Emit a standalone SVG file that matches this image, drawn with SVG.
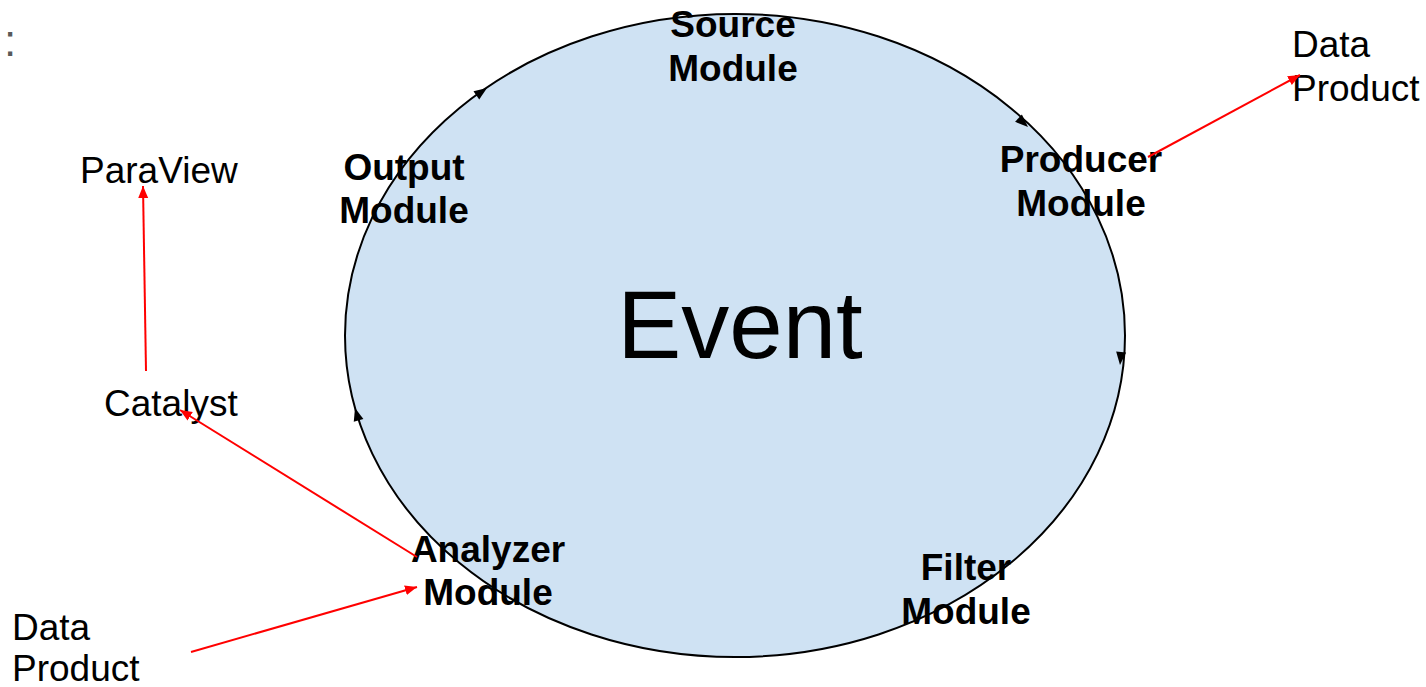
<svg xmlns="http://www.w3.org/2000/svg" width="1426" height="687" viewBox="0 0 1426 687">
<style>
.b{font-family:"Liberation Sans",Arial,sans-serif;font-weight:bold;font-size:37px;fill:#000;text-anchor:middle}
.n{font-family:"Liberation Sans",Arial,sans-serif;font-size:37px;fill:#000}
.r{stroke:#ff0000;stroke-width:2;fill:none;marker-end:url(#ra)}
.ah{fill:#000}
</style>
<defs>
<marker id="ra" markerUnits="userSpaceOnUse" markerWidth="14" markerHeight="12" refX="12" refY="5" orient="auto">
<path d="M0,0 L12,5 L0,10 Z" fill="#ff0000"/>
</marker>
</defs>
<text x="4" y="56" font-family="Liberation Sans,Arial,sans-serif" font-size="44" fill="#595959">:</text>
<g id="event">
<ellipse cx="735" cy="335.5" rx="390" ry="321.5" fill="#cfe2f3" stroke="#000" stroke-width="2"/>
<text x="740" y="358" font-family="Liberation Sans,Arial,sans-serif" font-size="96" text-anchor="middle">Event</text>
</g>
<g id="cycle-arrows">
<path class="ah" d="M0,0 L-13,-5 L-13,5 Z" transform="translate(487,88) rotate(-35)"/>
<path class="ah" d="M0,0 L-13,-5 L-13,5 Z" transform="translate(1028,127) rotate(43)"/>
<path class="ah" d="M0,0 L-13,-5 L-13,5 Z" transform="translate(1120,365) rotate(95)"/>
<path class="ah" d="M0,0 L-13,-5 L-13,5 Z" transform="translate(355,408) rotate(-106)"/>
</g>
<g id="source"><text class="b" x="733" y="37">Source</text><text class="b" x="733" y="81">Module</text></g>
<g id="output"><text class="b" x="404" y="180">Output</text><text class="b" x="404" y="223">Module</text></g>
<g id="producer"><text class="b" x="1081" y="172">Producer</text><text class="b" x="1081" y="216">Module</text></g>
<g id="analyzer"><text class="b" x="488" y="562">Analyzer</text><text class="b" x="488" y="605">Module</text></g>
<g id="filter"><text class="b" x="966" y="580">Filter</text><text class="b" x="966" y="624">Module</text></g>
<g id="paraview"><text class="n" x="80" y="183">ParaView</text></g>
<g id="catalyst"><text class="n" x="104" y="416">Catalyst</text></g>
<g id="dataproduct-out"><text class="n" x="1292" y="57">Data</text><text class="n" x="1292" y="101">Product</text></g>
<g id="dataproduct-in"><text class="n" x="12" y="640">Data</text><text class="n" x="12" y="681">Product</text></g>
<g id="connectors">
<line class="r" x1="146" y1="371" x2="143" y2="186"/>
<line class="r" x1="417" y1="557" x2="180" y2="410"/>
<line class="r" x1="191" y1="652" x2="417" y2="587"/>
<line class="r" x1="1148" y1="157" x2="1300" y2="75"/>
</g>
</svg>
